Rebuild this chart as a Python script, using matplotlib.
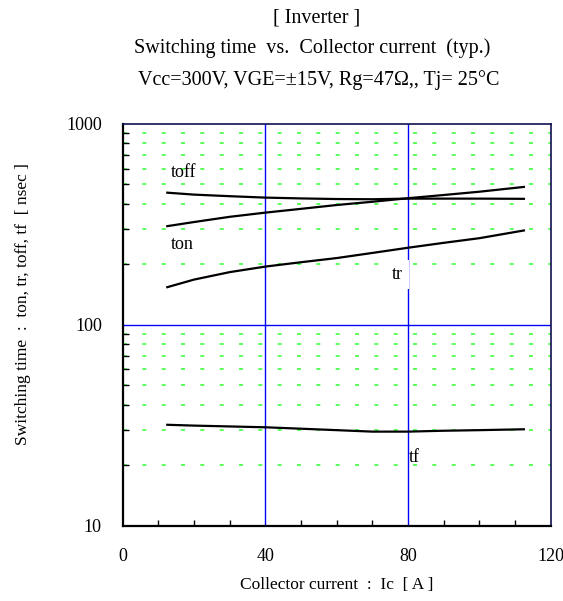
import matplotlib
matplotlib.use('Agg')
import matplotlib.pyplot as plt
import numpy as np
from matplotlib.ticker import FixedLocator, NullFormatter

plt.rcParams['font.family'] = ['Liberation Serif', 'DejaVu Serif']

# datos (Ic en A, tiempos en nsec)
ic = [12.5, 20, 30, 40, 50, 60, 70, 80, 90, 100, 112.5]
ton = [310, 325, 345, 362, 378, 395, 410, 427, 443, 460, 486]
toff = [455, 445, 437, 430, 426, 423, 422, 425, 425, 425, 424]
tr = [154, 168, 183, 195, 205, 215, 228, 242, 256, 270, 295]
tf = [31.8, 31.5, 31.2, 30.9, 30.4, 29.9, 29.4, 29.4, 29.7, 29.9, 30.2]

x_ticks = [0, 40, 80, 120]
y_ticks = [10, 100, 1000]

fig = plt.figure(figsize=(5.63, 6.01), dpi=100)
ax = fig.add_axes([0.218, 0.1253, 0.760, 0.6684])
ax.set_yscale('log')
ax.set_xlim(0, 120)
ax.set_ylim(10, 1000)

# rejilla menor verde punteada
minors = [m * d for d in (10, 100) for m in range(2, 10)]
for v in minors:
    ax.axhline(v, color='#40ff40', lw=1.2, dashes=(2.4, 9.2), zorder=1)
for v in (40, 80):
    ax.axvline(v, color='#0000ff', lw=1, zorder=1)
ax.axhline(100, color='#0000ff', lw=1, zorder=1)

for serie in (ton, toff, tr, tf):
    ax.plot(ic, serie, color='black', lw=1.6, zorder=3)

ax.text(13.5, 573, 'toff', fontsize=13, va='center', zorder=4)
ax.text(13.5, 252, 'ton', fontsize=13, va='center', zorder=4)
ax.text(75.5, 178, 'tr', fontsize=13, va='center', zorder=4,
        bbox=dict(facecolor='white', edgecolor='none', pad=4))
ax.text(80.3, 21.9, 'tf', fontsize=13, va='center', zorder=4)

ax.set_xticks(x_ticks)
ax.set_xticklabels([str(t) for t in x_ticks])
ax.xaxis.set_minor_locator(FixedLocator(np.arange(10, 120, 10)))
ax.set_yticks(y_ticks)
ax.set_yticklabels([str(t) for t in y_ticks])
ax.yaxis.set_minor_locator(FixedLocator(minors))
ax.yaxis.set_minor_formatter(NullFormatter())
ax.tick_params(which='both', direction='in', labelsize=13)
ax.tick_params(axis='y', which='major', length=0, pad=15)
ax.tick_params(axis='x', which='major', length=0, pad=16)
ax.tick_params(which='minor', length=4, width=1)

for s in ('left', 'bottom'):
    ax.spines[s].set_linewidth(1.6)
    ax.spines[s].set_color('black')
for s in ('top', 'right'):
    ax.spines[s].set_linewidth(1.2)
    ax.spines[s].set_color('#101050')

ax.set_xlabel('Collector current  :  Ic  [ A ]', fontsize=12.5)
ax.xaxis.set_label_coords(0.5, -0.128)
ax.set_ylabel('Switching time  :  ton, tr, toff, tf  [ nsec ]', fontsize=12.5)
ax.yaxis.set_label_coords(-0.215, 0.551)

fig.text(0.562, 0.970, '[ Inverter ]', fontsize=14.5, ha='center', va='center')
fig.text(0.555, 0.920, 'Switching time  vs.  Collector current  (typ.)', fontsize=14.5,
         ha='center', va='center')
fig.text(0.566, 0.867, 'Vcc=300V, VGE=±15V, Rg=47Ω,, Tj= 25°C', fontsize=14.5,
         ha='center', va='center')

fig.savefig('out.png', dpi=100)
